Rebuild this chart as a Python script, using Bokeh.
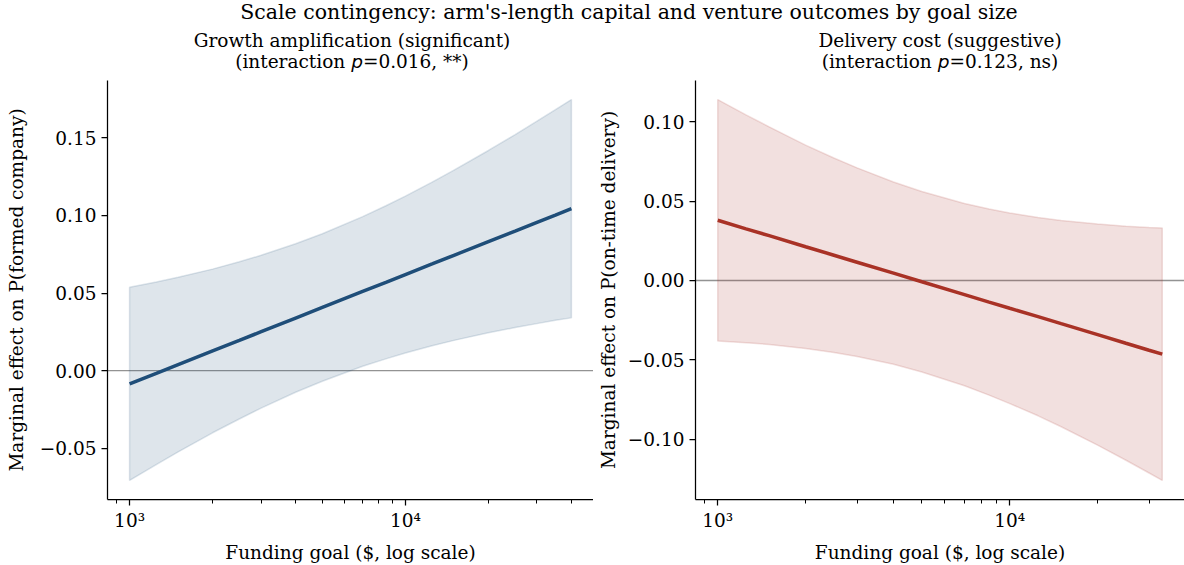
import math

from bokeh.embed import file_html
from bokeh.layouts import column, row
from bokeh.models import CustomJSTickFormatter, Div, FixedTicker, Range1d, Span
from bokeh.plotting import figure
from bokeh.resources import INLINE

# ---- data: marginal effect of arm's-length capital across funding goal ----
goal_growth = [1000, 1250, 1500, 2000, 2500, 3000, 4000, 5000, 7000, 8500,
               10000, 12500, 15000, 20000, 25000, 30000, 35000, 40000]
effect_growth = [-0.0085, -0.0017, 0.0039, 0.0127, 0.0195, 0.0251, 0.0339, 0.0407, 0.0510, 0.0569,
                 0.0619, 0.0687, 0.0743, 0.0831, 0.0899, 0.0955, 0.1002, 0.1043]
upper_growth = [0.0537, 0.0571, 0.0601, 0.0654, 0.0701, 0.0743, 0.0817, 0.0882, 0.0992, 0.1062,
                0.1124, 0.1214, 0.1291, 0.1418, 0.1520, 0.1607, 0.1681, 0.1746]
lower_growth = [-0.0707, -0.0605, -0.0523, -0.0400, -0.0311, -0.0241, -0.0139, -0.0068, 0.0028, 0.0076,
                0.0114, 0.0160, 0.0195, 0.0244, 0.0278, 0.0303, 0.0324, 0.0340]

goal_delivery = [1000, 1250, 1500, 2000, 2500, 3000, 4000, 5000, 7000, 8500,
                 10000, 12500, 15000, 20000, 25000, 30000, 33300]
effect_delivery = [0.0379, 0.0325, 0.0282, 0.0212, 0.0159, 0.0115, 0.0046, -0.0008, -0.0089, -0.0136,
                   -0.0175, -0.0228, -0.0272, -0.0341, -0.0395, -0.0439, -0.0464]
upper_delivery = [0.1139, 0.1042, 0.0967, 0.0852, 0.0771, 0.0709, 0.0620, 0.0560, 0.0485, 0.0450,
                  0.0425, 0.0396, 0.0377, 0.0355, 0.0342, 0.0334, 0.0331]
lower_delivery = [-0.0381, -0.0392, -0.0403, -0.0428, -0.0453, -0.0479, -0.0528, -0.0576, -0.0663, -0.0722,
                  -0.0775, -0.0852, -0.0921, -0.1037, -0.1132, -0.1212, -0.1259]

yticks_growth = [-0.05, 0.0, 0.05, 0.10, 0.15]
yticks_delivery = [-0.10, -0.05, 0.0, 0.05, 0.10]
xticks_major = [1000, 10000]
xticks_minor = [900, 2000, 3000, 4000, 5000, 6000, 7000, 8000, 9000,
                20000, 30000, 40000]

suptitle = "Scale contingency: arm's-length capital and venture outcomes by goal size"
titles = ["Growth amplification (significant)", "Delivery cost (suggestive)"]
interaction_p = ["0.016", "0.123"]
verdicts = ["**", "ns"]
xlabel = "Funding goal ($, log scale)"
ylabels = ["Marginal effect on P(formed company)",
           "Marginal effect on P(on-time delivery)"]

SERIF = "DejaVu Serif"
FONT_PX = "18.5px"
BLUE = "#1f4e79"
RED = "#a93226"

HEADER_H = 80
FIG_H = 565 - HEADER_H
BORDER_BOTTOM = 63


def log_range(xs, pad=0.05):
    lo, hi = math.log10(min(xs)), math.log10(max(xs))
    d = (hi - lo) * pad
    return Range1d(10 ** (lo - d), 10 ** (hi + d))


def lin_range(lows, highs, pad=0.05):
    lo, hi = min(lows), max(highs)
    d = (hi - lo) * pad
    return Range1d(lo - d, hi + d)


def panel(goal, effect, upper, lower, color, ylabel, yticks,
          width, border_left, label_standoff):
    p = figure(width=width, height=FIG_H, x_axis_type="log",
               x_range=log_range(goal), y_range=lin_range(lower, upper),
               output_backend="svg", toolbar_location=None, title_location=None,
               min_border_left=border_left, min_border_right=0,
               min_border_top=0, min_border_bottom=BORDER_BOTTOM)
    p.outline_line_color = None
    p.xgrid.visible = False
    p.ygrid.visible = False
    p.background_fill_color = "white"
    p.border_fill_color = "white"

    # confidence band, zero reference, point estimate
    p.patch(goal + goal[::-1], upper + lower[::-1], fill_color=color,
            fill_alpha=0.15, line_color=color, line_alpha=0.15, line_width=1.5)
    p.add_layout(Span(location=0, dimension="width", line_color="#808080",
                      line_alpha=0.85, line_width=1.4, level="underlay"))
    p.line(goal, effect, line_color=color, line_width=3.5)

    for ax in (p.xaxis[0], p.yaxis[0]):
        ax.axis_line_color = "black"
        ax.axis_line_width = 1.25
        ax.major_tick_line_color = "black"
        ax.major_tick_line_width = 1.25
        ax.minor_tick_line_color = "black"
        ax.minor_tick_line_width = 1.0
        ax.major_tick_in = 0
        ax.major_tick_out = 6
        ax.minor_tick_in = 0
        ax.minor_tick_out = 4
        ax.major_label_text_font = SERIF
        ax.major_label_text_font_size = FONT_PX
        ax.major_label_text_color = "black"
        ax.axis_label_text_font = SERIF
        ax.axis_label_text_font_size = FONT_PX
        ax.axis_label_text_font_style = "normal"
        ax.axis_label_text_color = "black"
        ax.axis_label_text_line_height = 1.0

    xa = p.xaxis[0]
    xa.ticker = FixedTicker(ticks=xticks_major, minor_ticks=xticks_minor)
    xa.formatter = CustomJSTickFormatter(code="""
        const sup = {"0":"\u2070","1":"\u00b9","2":"\u00b2","3":"\u00b3","4":"\u2074",
                     "5":"\u2075","6":"\u2076","7":"\u2077","8":"\u2078","9":"\u2079"};
        const e = String(Math.round(Math.log10(tick)));
        return "10" + e.split("").map(c => sup[c]).join("");
    """)
    xa.major_label_standoff = 4
    xa.axis_label = xlabel
    xa.axis_label_standoff = 8

    ya = p.yaxis[0]
    ya.ticker = FixedTicker(ticks=yticks)
    ya.formatter = CustomJSTickFormatter(
        code="return tick.toFixed(2).replace('-', '\u2212');")
    ya.minor_tick_line_color = None
    ya.major_label_standoff = 5
    ya.axis_label = ylabel
    ya.axis_label_standoff = label_standoff
    return p


left = panel(goal_growth, effect_growth, upper_growth, lower_growth, BLUE,
             ylabels[0], yticks_growth, width=593, border_left=107,
             label_standoff=10)
right = panel(goal_delivery, effect_delivery, upper_delivery, lower_delivery, RED,
              ylabels[1], yticks_delivery, width=591, border_left=102,
              label_standoff=6)


# figure heading: overall title plus a two-line title over each panel,
# with the interaction p set in italics
def panel_heading(left_px, title, pval, verdict):
    return (f"<div style=\"position:absolute;left:{left_px}px;top:30px;width:490px;"
            f"text-align:center;font-size:18.5px;line-height:21px;white-space:nowrap\">"
            f"{title}<br>(interaction <i style=\"font-family:'DejaVu Sans'\">p</i>"
            f"={pval}, {verdict})</div>")


heading_html = (
    "<div style=\"position:relative;width:1184px;height:80px;"
    "font-family:'DejaVu Serif';color:black\">"
    "<div style=\"position:absolute;left:74px;top:2px;width:1110px;text-align:center;"
    "font-size:20.5px;line-height:20.5px;white-space:nowrap\">" + suptitle + "</div>"
    + panel_heading(107, titles[0], interaction_p[0], verdicts[0])
    + panel_heading(695, titles[1], interaction_p[1], verdicts[1])
    + "</div>"
)
header = Div(text=heading_html, width=1184, height=HEADER_H, margin=0)

layout = column(header, row(left, right, spacing=0), spacing=0)

with open("out.html", "w") as f:
    f.write(file_html(layout, INLINE))
